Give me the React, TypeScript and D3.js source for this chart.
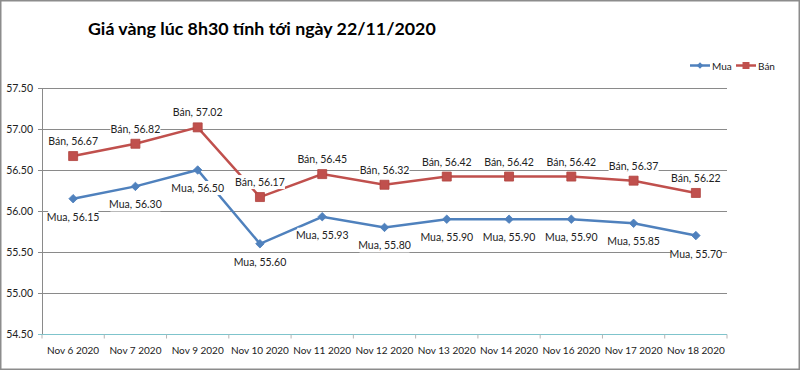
import React, { useEffect, useRef } from 'react';
import * as d3 from 'd3';

const categories = [
  'Nov 6 2020', 'Nov 7 2020', 'Nov 9 2020', 'Nov 10 2020', 'Nov 11 2020', 'Nov 12 2020',
  'Nov 13 2020', 'Nov 14 2020', 'Nov 16 2020', 'Nov 17 2020', 'Nov 18 2020',
];
const muaValues = [56.15, 56.3, 56.5, 55.6, 55.93, 55.8, 55.9, 55.9, 55.9, 55.85, 55.7];
const banValues = [56.67, 56.82, 57.02, 56.17, 56.45, 56.32, 56.42, 56.42, 56.42, 56.37, 56.22];
const yTicks = [54.5, 55, 55.5, 56, 56.5, 57, 57.5];
const title = 'Giá vàng lúc 8h30 tính tới ngày 22/11/2020';

const BLUE = '#4f81bd';
const RED = '#c0504d';
const FONT = 'Lato, "Open Sans", sans-serif';

export default function App() {
  const chartRef = useRef<SVGSVGElement>(null);

  useEffect(() => {
    const width = 800;
    const height = 370;
    const margin = { top: 88, right: 73, bottom: 36, left: 42 };

    const svg = d3.select(chartRef.current);
    svg.selectAll('*').remove();
    svg.attr('width', width).attr('height', height);

    // outer frame
    svg.append('rect')
      .attr('x', 0.75).attr('y', 0.75)
      .attr('width', width - 1.5).attr('height', height - 1.5)
      .attr('fill', '#fff').attr('stroke', '#8c8c8c').attr('stroke-width', 1.5);

    svg.append('text')
      .attr('x', 88).attr('y', 35)
      .attr('font-family', FONT).attr('font-weight', 'bold').attr('font-size', 17.8)
      .attr('fill', '#000')
      .text(title);

    const xScale = d3.scaleBand()
      .domain(categories)
      .range([margin.left, width - margin.right]);

    const yScale = d3.scaleLinear()
      .domain([54.5, 57.5])
      .range([height - margin.bottom, margin.top]);

    const cx = (c: string) => (xScale(c) as number) + xScale.bandwidth() / 2;

    // gridlines
    svg.append('g')
      .selectAll('line')
      .data(yTicks.slice(1))
      .enter()
      .append('line')
      .attr('x1', margin.left - 4).attr('x2', width - margin.right)
      .attr('y1', d => Math.round(yScale(d)) + 0.5).attr('y2', d => Math.round(yScale(d)) + 0.5)
      .attr('stroke', '#8a8a8a').attr('stroke-width', 1);

    // y labels
    svg.append('g')
      .selectAll('text')
      .data(yTicks)
      .enter()
      .append('text')
      .attr('x', 33).attr('y', d => yScale(d) + 4)
      .attr('text-anchor', 'end')
      .attr('font-family', FONT).attr('font-size', 10.5).attr('fill', '#222')
      .text(d => d.toFixed(2));

    // y axis line
    svg.append('line')
      .attr('x1', margin.left + 0.5).attr('x2', margin.left + 0.5)
      .attr('y1', margin.top).attr('y2', height - margin.bottom)
      .attr('stroke', '#8a8a8a').attr('stroke-width', 1);

    // x axis
    const xAxis = svg.append('g')
      .attr('transform', `translate(0, ${Math.round(yScale(54.5)) + 0.5})`);
    xAxis.append('line')
      .attr('x1', margin.left - 4).attr('x2', width - margin.right)
      .attr('stroke', '#7fc4cc').attr('stroke-width', 1.2);
    xAxis.selectAll('.tk')
      .data([...categories.map(c => xScale(c) as number), width - margin.right])
      .enter()
      .append('line')
      .attr('x1', d => d).attr('x2', d => d)
      .attr('y1', 0).attr('y2', 4)
      .attr('stroke', '#b5b5b5');
    xAxis.selectAll('text')
      .data(categories)
      .enter()
      .append('text')
      .attr('x', d => cx(d)).attr('y', 19)
      .attr('text-anchor', 'middle')
      .attr('font-family', FONT).attr('font-size', 10).attr('fill', '#222')
      .text(d => d);

    const line = d3.line<number>()
      .x((_, i) => cx(categories[i]))
      .y(d => yScale(d));

    const series = [
      { name: 'Mua', values: muaValues, color: BLUE, marker: 'diamond', dy: 18 },
      { name: 'Bán', values: banValues, color: RED, marker: 'square', dy: -15 },
    ];

    const markerPath = (marker: string, scale: number) =>
      d3.symbol().type(d3.symbolSquare).size(marker === 'diamond' ? 36 * scale : 81 * scale)();

    series.forEach(s => {
      svg.append('path')
        .datum(s.values)
        .attr('d', line)
        .attr('fill', 'none')
        .attr('stroke', s.color)
        .attr('stroke-width', 2.5);

      svg.append('g')
        .selectAll('path')
        .data(s.values)
        .enter()
        .append('path')
        .attr('d', markerPath(s.marker, 1))
        .attr('transform', (d, i) =>
          `translate(${cx(categories[i])}, ${yScale(d)})${s.marker === 'diamond' ? ' rotate(45)' : ''}`)
        .attr('fill', s.color)
        .attr('stroke', s.marker === 'square' ? '#b0443f' : s.color)
        .attr('stroke-width', 0.8);
    });

    // data labels with white background
    series.forEach(s => {
      const g = svg.append('g')
        .selectAll('g')
        .data(s.values)
        .enter()
        .append('g')
        .attr('transform', (d, i) => `translate(${cx(categories[i])}, ${yScale(d) + s.dy})`);
      g.append('rect')
        .attr('x', -25).attr('y', -7)
        .attr('width', 50).attr('height', 14)
        .attr('fill', '#fff');
      g.append('text')
        .attr('y', 4)
        .attr('text-anchor', 'middle')
        .attr('font-family', FONT).attr('font-size', 10.5).attr('fill', '#222')
        .text(d => `${s.name}, ${d.toFixed(2)}`);
    });

    // legend
    const legend = svg.append('g').attr('transform', 'translate(690, 65.5)');
    series.forEach((s, i) => {
      const lg = legend.append('g').attr('transform', `translate(${i * 46}, 0)`);
      lg.append('line')
        .attr('x1', 0).attr('x2', 20)
        .attr('stroke', s.color).attr('stroke-width', 2.5);
      lg.append('path')
        .attr('d', markerPath(s.marker, 0.6))
        .attr('transform', `translate(10, 0)${s.marker === 'diamond' ? ' rotate(45)' : ''}`)
        .attr('fill', s.color);
      lg.append('text')
        .attr('x', 22).attr('y', 4)
        .attr('font-family', FONT).attr('font-size', 10).attr('fill', '#222')
        .text(s.name);
    });
  }, []);

  return (
    <svg ref={chartRef} style={{ position: 'absolute', left: 0, top: 0, display: 'block' }} />
  );
}
